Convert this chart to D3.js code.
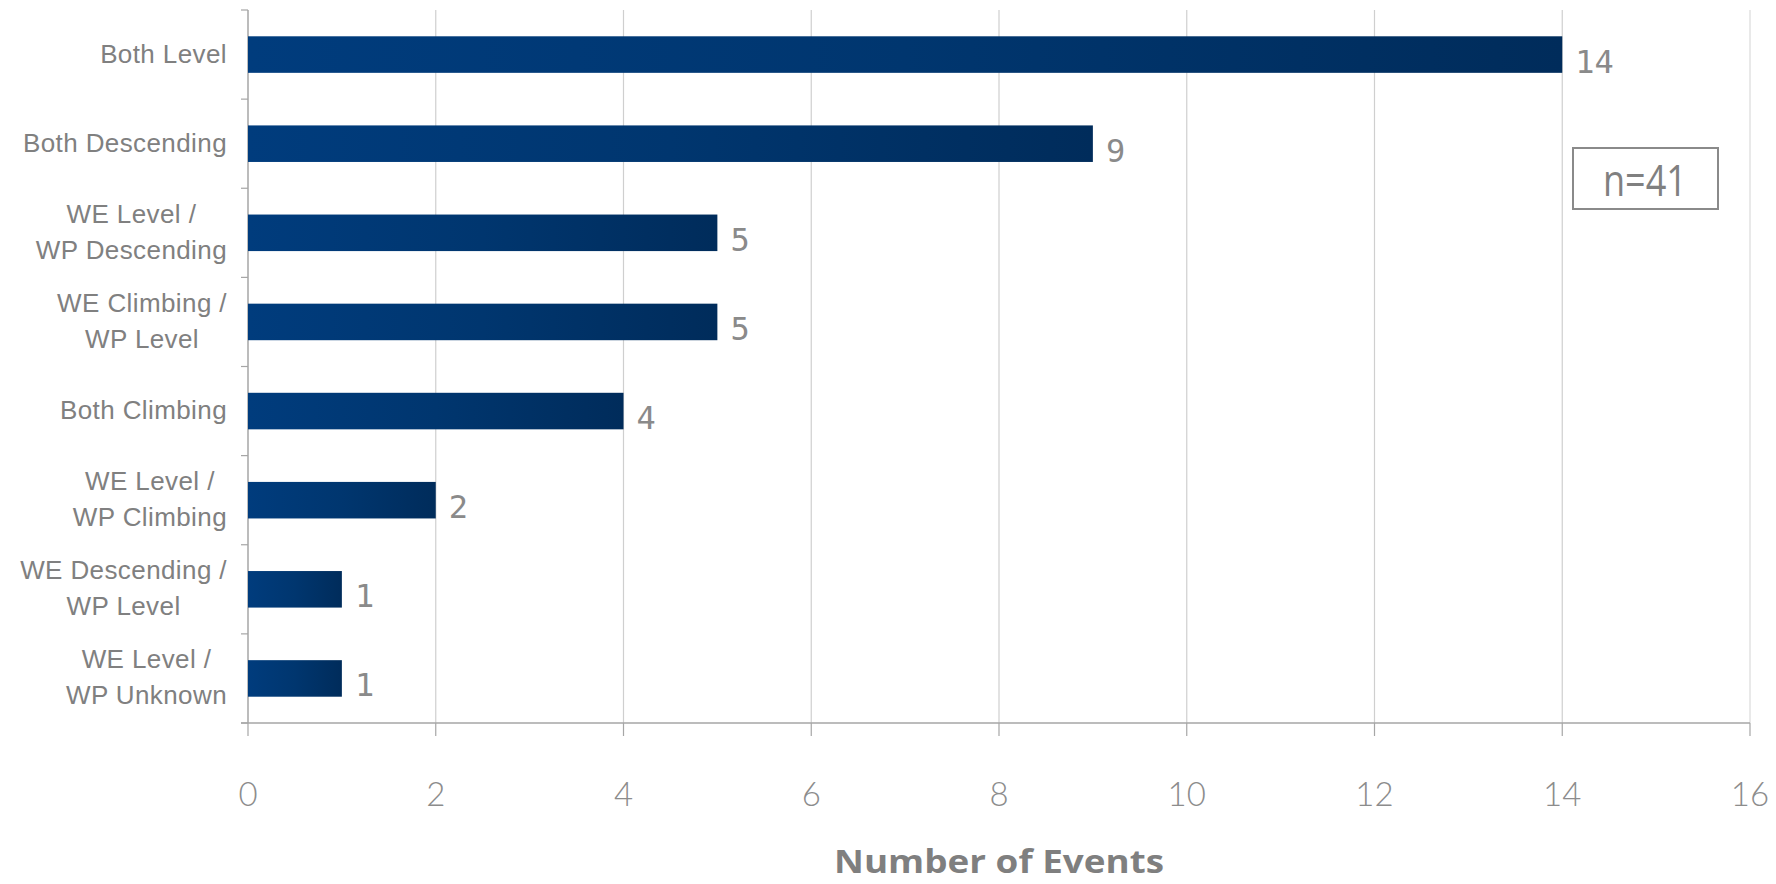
<!DOCTYPE html>
<html>
<head>
<meta charset="utf-8">
<script src="https://cdn.jsdelivr.net/npm/d3@7"></script>
<style>
  html, body { margin: 0; padding: 0; background: #ffffff; }
  svg { display: block; }
</style>
</head>
<body>
<svg id="chart" width="1776" height="884"></svg>
<script>
// ---- data ----
const categories = [
  "Both Level",
  "Both Descending",
  "WE Level / WP Descending",
  "WE Climbing / WP Level",
  "Both Climbing",
  "WE Level / WP Climbing",
  "WE Descending / WP Level",
  "WE Level / WP Unknown"
];
const labelLines = [
  ["Both Level"],
  ["Both Descending"],
  ["WE Level /", "WP Descending"],
  ["WE Climbing /", "WP Level"],
  ["Both Climbing"],
  ["WE Level /", "WP Climbing"],
  ["WE Descending /", "WP Level"],
  ["WE Level /", "WP Unknown"]
];
const events = [14, 9, 5, 5, 4, 2, 1, 1];
const xTicks = [0, 2, 4, 6, 8, 10, 12, 14, 16];
const xTitle = "Number of Events";
const sampleNote = "n=41";

(function () {
// ---- layout ----
const svg = d3.select("#chart");
const mLeft = 248, mRight = 1750, mTop = 10, mBottom = 723;

const x = d3.scaleLinear().domain([0, 16]).range([mLeft, mRight]);
const y = d3.scaleBand().domain(categories).range([mTop, mBottom])
  .paddingInner(0.59).paddingOuter(0.295);

// gradient
const defs = svg.append("defs");
const grad = defs.append("linearGradient").attr("id", "barGrad")
  .attr("x1", "0%").attr("x2", "100%").attr("y1", "0%").attr("y2", "0%");
grad.append("stop").attr("offset", "0%").attr("stop-color", "#003C7D");
grad.append("stop").attr("offset", "50%").attr("stop-color", "#00366F");
grad.append("stop").attr("offset", "100%").attr("stop-color", "#002C5B");

// gridlines
svg.append("g").selectAll("line").data(xTicks.filter(d => d > 0)).join("line")
  .attr("x1", d => x(d)).attr("x2", d => x(d))
  .attr("y1", mTop).attr("y2", mBottom)
  .attr("stroke", (d) => d === 16 ? "#dadada" : "#cfcfcf")
  .attr("stroke-width", 1.2);

// y axis line + ticks
const axisColor = "#a6a6a6";
svg.append("line").attr("x1", mLeft).attr("x2", mLeft).attr("y1", mTop).attr("y2", mBottom)
  .attr("stroke", axisColor).attr("stroke-width", 1.5);
const bounds = categories.map(c => y(c) - y.step() * y.paddingInner() / 2);
bounds.push(mBottom);
svg.append("g").selectAll("line").data(bounds).join("line")
  .attr("x1", mLeft - 7).attr("x2", mLeft)
  .attr("y1", d => d).attr("y2", d => d)
  .attr("stroke", axisColor).attr("stroke-width", 1.2);

// x axis baseline + ticks
svg.append("line").attr("x1", mLeft - 7).attr("x2", mRight).attr("y1", mBottom).attr("y2", mBottom)
  .attr("stroke", axisColor).attr("stroke-width", 1.5);
svg.append("g").selectAll("line").data(xTicks).join("line")
  .attr("x1", d => x(d)).attr("x2", d => x(d))
  .attr("y1", mBottom).attr("y2", mBottom + 13)
  .attr("stroke", axisColor).attr("stroke-width", 1.2);

// tick labels
svg.append("g").selectAll("text").data(xTicks).join("text")
  .attr("x", d => x(d)).attr("y", 806)
  .attr("text-anchor", "middle")
  .attr("font-family", "Lato, 'Open Sans', sans-serif")
  .attr("font-weight", 300)
  .attr("font-size", 33)
  .attr("fill", "#8c8c8c")
  .text(d => d);

// bars
svg.append("g").selectAll("rect").data(events).join("rect")
  .attr("x", x(0))
  .attr("y", (d, i) => y(categories[i]))
  .attr("width", d => x(d) - x(0))
  .attr("height", y.bandwidth())
  .attr("fill", "url(#barGrad)");

// value labels
svg.append("g").selectAll("text").data(events).join("text")
  .attr("x", d => x(d) + 13)
  .attr("y", (d, i) => y(categories[i]) + y.bandwidth() / 2 + 18)
  .attr("font-family", "'DejaVu Sans Mono', monospace")
  .attr("font-size", 32)
  .attr("fill", "#8a8a8a")
  .text(d => d);

// category labels (block right-aligned, lines centered)
const labelRight = 227;
const catG = svg.append("g");
categories.forEach((c, i) => {
  const lines = labelLines[i];
  const cy = y(c) + y.bandwidth() / 2;
  const lh = 36;
  const g = catG.append("g");
  const texts = lines.map((ln, j) => g.append("text")
    .attr("y", cy + 8 + (j - (lines.length - 1) / 2) * lh)
    .attr("text-anchor", "middle")
    .attr("font-family", "'Liberation Sans', Arial, sans-serif")
    .attr("font-size", 26)
    .attr("letter-spacing", 0.4)
    .attr("fill", "#808080")
    .text(ln));
  const widths = texts.map(t => t.node().getComputedTextLength());
  const w = d3.max(widths);
  texts.forEach(t => t.attr("x", labelRight - w / 2));
});

// n=41 box
svg.append("rect").attr("x", 1573).attr("y", 148).attr("width", 145).attr("height", 61)
  .attr("fill", "#ffffff").attr("stroke", "#8a8a8a").attr("stroke-width", 2);
svg.append("text").attr("x", 1645).attr("y", 196)
  .attr("text-anchor", "middle")
  .attr("font-family", "'Open Sans', sans-serif")
  .attr("font-size", 44)
  .attr("textLength", 84).attr("lengthAdjust", "spacingAndGlyphs")
  .attr("fill", "#808080")
  .text(sampleNote);

// axis title
svg.append("text").attr("x", (mLeft + mRight) / 2).attr("y", 873)
  .attr("text-anchor", "middle")
  .attr("font-family", "'Open Sans', sans-serif")
  .attr("font-weight", "bold")
  .attr("font-size", 33)
  .attr("textLength", 330).attr("lengthAdjust", "spacingAndGlyphs")
  .attr("fill", "#7f7f7f")
  .text(xTitle);
})();
</script>
</body>
</html>
